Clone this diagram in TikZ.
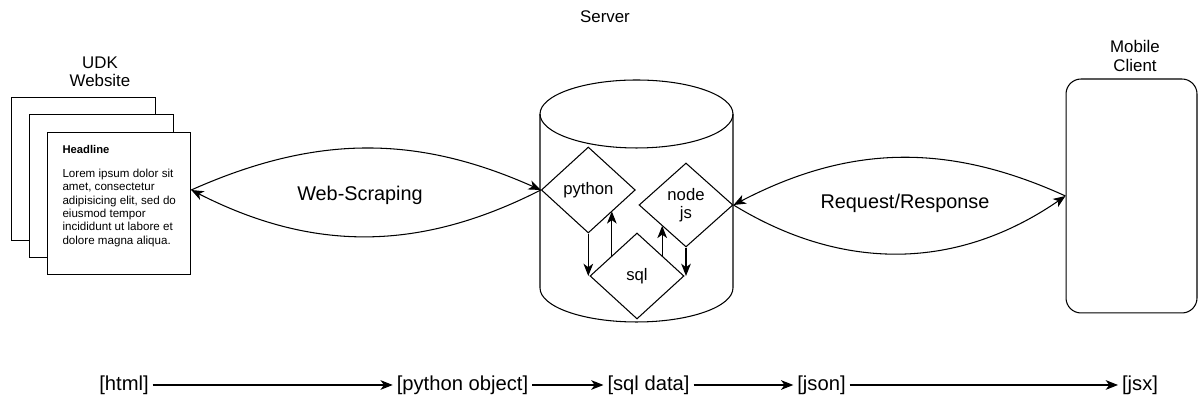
\documentclass[tikz,border=0pt]{standalone}
\usepackage{fontspec}
\setmainfont{Liberation Sans}
\usetikzlibrary{shapes.geometric,arrows.meta,positioning,calc}

\begin{document}
\begin{tikzpicture}[
    x=0.02cm, y=0.02cm,
    line width=0.6pt,
    pagebox/.style={draw, fill=white, minimum width=2.87cm, minimum height=2.85cm, inner sep=0pt},
    diamondbox/.style={draw, fill=white, diamond, minimum width=1.88cm, minimum height=1.72cm, inner sep=0pt, align=center, font=\fontsize{9.5}{10.5}\selectfont},
    clientbox/.style={draw, rounded corners=0.3cm, minimum width=2.62cm, minimum height=4.68cm},
    titlelabel/.style={align=center, font=\fontsize{9.6}{10.4}\selectfont},
    biglabel/.style={font=\fontsize{11.3}{13}\selectfont},
    flowtext/.style={inner sep=2pt, font=\fontsize{11.5}{13}\selectfont},
    arrow/.style={-{Stealth[length=7pt, width=5.5pt, inset=2pt]}}
]
    \path[use as bounding box] (0,0) rectangle (1199,404);

    % UDK Website, stacked pages
    \node[titlelabel] (udk) at (100,332) {UDK\\Website};
    \node[pagebox] (pageback) at (83.5,235) {};
    \node[pagebox] (pagemid) at (101.5,218) {};
    \node[pagebox] (page) at (119,200.5) {};
    \node[anchor=north west, inner sep=0pt, align=left, font=\fontsize{6.6}{7.6}\selectfont] (pagetext) at (62,259) {
        {\bfseries\fontsize{6.4}{7.6}\selectfont Headline}\\[6pt]
        Lorem ipsum dolor sit\\
        amet, consectetur\\
        adipisicing elit, sed do\\
        eiusmod tempor\\
        incididunt ut labore et\\
        dolore magna aliqua.
    };

    % Server cylinder
    \node[titlelabel] (server) at (605,387) {Server};
    \draw (540,290) -- (540,116) arc[start angle=180, end angle=360, x radius=1.93cm, y radius=0.68cm] -- (733,290);
    \draw (636.5,290) ellipse [x radius=1.93cm, y radius=0.68cm];

    \node[diamondbox] (python) at (588.3,214) {python};
    \node[diamondbox, minimum height=1.68cm] (nodejs) at (686,199) {node\\js};
    \node[diamondbox] (sql) at (637,128) {sql};

    % Mobile client
    \node[titlelabel] (mobile) at (1135,348) {Mobile\\Client};
    \node[clientbox] (client) at (1131.5,208) {};

    % Web-Scraping
    \draw[arrow] (page.east |- python.west) to[bend left=24] (python.west);
    \draw[arrow] (python.west) to[bend left=27] (page.east |- python.west);
    \node[biglabel] (scrape) at (360,209) {Web-Scraping};

    % Request/Response
    \draw[arrow] (client.west) to[bend right=26] (nodejs.east);
    \draw[arrow] (nodejs.east) to[bend right=33] (client.west);
    \node[biglabel] (reqres) at (905,201) {Request/Response};

    % inside the server
    \coordinate (sqlleft) at ($(sql.west)!0.47!(sql.north)$);
    \coordinate (pyright) at ($(python.south)!0.51!(python.east)$);
    \coordinate (sqlright) at ($(sql.north)!0.53!(sql.east)$);
    \coordinate (jsleft) at ($(nodejs.west)!0.49!(nodejs.south)$);
    \draw[arrow] (python.south) -- (python.south |- sql.west);
    \draw[arrow] (sqlleft) -- (sqlleft |- pyright);
    \draw[arrow] (sqlright) -- (sqlright |- jsleft);
    \draw[arrow] (nodejs.south) -- (nodejs.south |- sql.east);

    % data flow
    \node[flowtext] (html) at (124,19) {[html]};
    \node[flowtext] (pyobj) at (462.5,19) {[python object]};
    \node[flowtext] (sqldata) at (648.5,19) {[sql data]};
    \node[flowtext] (json) at (821.5,19) {[json]};
    \node[flowtext] (jsx) at (1140,19) {[jsx]};
    \draw[arrow] (html) -- (pyobj);
    \draw[arrow] (pyobj) -- (sqldata);
    \draw[arrow] (sqldata) -- (json);
    \draw[arrow] (json) -- (jsx);
\end{tikzpicture}
\end{document}
